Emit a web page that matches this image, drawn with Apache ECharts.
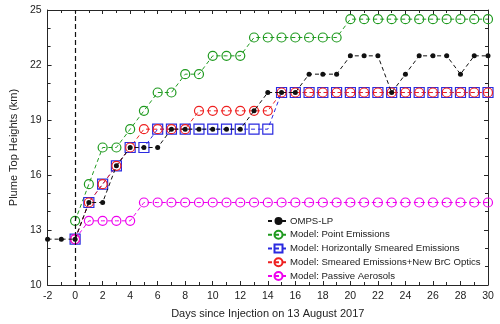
<!DOCTYPE html>
<html>
<head>
<meta charset="utf-8">
<script src="https://cdn.jsdelivr.net/npm/echarts@6/dist/echarts.min.js"></script>
<style>
  html, body { margin: 0; padding: 0; background: #fff; }
  #main { width: 500px; height: 324px; }
</style>
</head>
<body>
<div id="main"></div>
<script>
// days since injection
var obsDays = [-2, -1, 0, 1, 2, 3, 4, 5, 6, 7, 8, 9, 10, 11, 12, 13, 14, 15, 16, 17, 18, 19, 20, 21, 22, 23, 24, 25, 26, 27, 28, 29, 30];
var modelDays = [0, 1, 2, 3, 4, 5, 6, 7, 8, 9, 10, 11, 12, 13, 14, 15, 16, 17, 18, 19, 20, 21, 22, 23, 24, 25, 26, 27, 28, 29, 30];

var ompsLP = [12.5, 12.5, 12.5, 14.5, 14.5, 16.5, 17.5, 17.5, 17.5, 18.5, 18.5, 18.5, 18.5, 18.5, 18.5, 19.5, 20.5, 20.5, 20.5,
  21.5, 21.5, 21.5, 22.5, 22.5, 22.5, 20.5, 21.5, 22.5, 22.5, 22.5, 21.5, 22.5, 22.5];
var pointEmis = [13.5, 15.5, 17.5, 17.5, 18.5, 19.5, 20.5, 20.5, 21.5, 21.5, 22.5, 22.5, 22.5, 23.5, 23.5, 23.5, 23.5, 23.5, 23.5, 23.5,
  24.5, 24.5, 24.5, 24.5, 24.5, 24.5, 24.5, 24.5, 24.5, 24.5, 24.5];
var horizSmeared = [12.5, 14.5, 15.5, 16.5, 17.5, 17.5, 18.5, 18.5, 18.5, 18.5, 18.5, 18.5, 18.5, 18.5, 18.5,
  20.5, 20.5, 20.5, 20.5, 20.5, 20.5, 20.5, 20.5, 20.5, 20.5, 20.5, 20.5, 20.5, 20.5, 20.5, 20.5];
var smearedBrC = [12.5, 14.5, 15.5, 16.5, 17.5, 18.5, 18.5, 18.5, 18.5, 19.5, 19.5, 19.5, 19.5, 19.5, 19.5,
  20.5, 20.5, 20.5, 20.5, 20.5, 20.5, 20.5, 20.5, 20.5, 20.5, 20.5, 20.5, 20.5, 20.5, 20.5, 20.5];
var passive = [12.5, 13.5, 13.5, 13.5, 13.5, 14.5, 14.5, 14.5, 14.5, 14.5, 14.5, 14.5, 14.5, 14.5, 14.5, 14.5,
  14.5, 14.5, 14.5, 14.5, 14.5, 14.5, 14.5, 14.5, 14.5, 14.5, 14.5, 14.5, 14.5, 14.5, 14.5];

var names = ['OMPS-LP', 'Model: Point Emissions', 'Model: Horizontally Smeared Emissions',
  'Model: Smeared Emissions+New BrC Optics', 'Model: Passive Aerosols'];

function pairs(xs, ys) {
  return xs.map(function (x, i) { return [x, ys[i]]; });
}

var font = 'Liberation Sans, Arial, sans-serif';
var axisCol = '#262626';
var dash = [4, 3];

function modelSeries(name, ys, color, symbol, size) {
  return {
    name: name,
    type: 'line',
    data: pairs(modelDays, ys),
    symbol: symbol,
    symbolSize: size,
    lineStyle: { color: color, width: 1, type: dash },
    itemStyle: { color: 'rgba(0,0,0,0)', borderColor: color, borderWidth: 1.2 },
    emphasis: { disabled: true }
  };
}

var chart = echarts.init(document.getElementById('main'));

var xBase = {
  type: 'value', min: -2, max: 30, interval: 2,
  axisLine: { onZero: false, lineStyle: { color: axisCol, width: 1 } },
  axisTick: { inside: true, length: 4, lineStyle: { color: axisCol } },
  minorTick: { show: true, splitNumber: 2, length: 3, lineStyle: { color: axisCol } },
  splitLine: { show: false }
};
var yBase = {
  type: 'value', min: 10, max: 25, interval: 3,
  axisLine: { onZero: false, lineStyle: { color: axisCol, width: 1 } },
  axisTick: { inside: true, length: 4, lineStyle: { color: axisCol } },
  minorTick: { show: true, splitNumber: 3, length: 3, lineStyle: { color: axisCol } },
  splitLine: { show: false }
};

chart.setOption({
  animation: false,
  textStyle: { fontFamily: font },
  grid: { left: 34, right: 12, top: 10, bottom: 35 },
  legend: {
    data: names,
    orient: 'vertical',
    left: 267,
    top: 216,
    padding: 0,
    itemWidth: 21,
    itemHeight: 10,
    itemGap: 3.75,
    textStyle: { fontSize: 9.6, lineHeight: 10, color: '#222', fontFamily: font, padding: [0, 0, 0, -4] }
  },
  xAxis: [
    Object.assign({}, xBase, {
      position: 'bottom',
      name: 'Days since Injection on 13 August 2017',
      nameLocation: 'middle',
      nameGap: 23,
      nameTextStyle: { fontSize: 11, color: '#222' },
      axisLabel: { fontSize: 10.5, color: '#222', margin: 6 }
    }),
    Object.assign({}, xBase, { position: 'top', axisLabel: { show: false } })
  ],
  yAxis: [
    Object.assign({}, yBase, {
      position: 'left',
      name: 'Plume Top Heights (km)',
      nameLocation: 'middle',
      nameGap: 23,
      nameTextStyle: { fontSize: 11, color: '#222' },
      axisLabel: { fontSize: 10.5, color: '#222', margin: 6 }
    }),
    Object.assign({}, yBase, { position: 'right', axisLabel: { show: false } })
  ],
  series: [
    {
      name: names[0],
      type: 'line',
      data: pairs(obsDays, ompsLP),
      symbol: 'circle',
      symbolSize: 5,
      lineStyle: { color: '#111', width: 1, type: dash },
      itemStyle: { color: '#111' },
      emphasis: { disabled: true },
      markLine: {
        silent: true,
        symbol: 'none',
        label: { show: false },
        lineStyle: { color: '#111', width: 1.2, type: [5, 3] },
        data: [{ xAxis: 0 }]
      },
      z: 6
    },
    modelSeries(names[1], pointEmis, '#1f9a1f', 'circle', 9),
    modelSeries(names[2], horizSmeared, '#2a2ae0', 'rect', 10),
    modelSeries(names[3], smearedBrC, '#ee2020', 'circle', 9),
    modelSeries(names[4], passive, '#ee00ee', 'circle', 9)
  ]
});
</script>
</body>
</html>
